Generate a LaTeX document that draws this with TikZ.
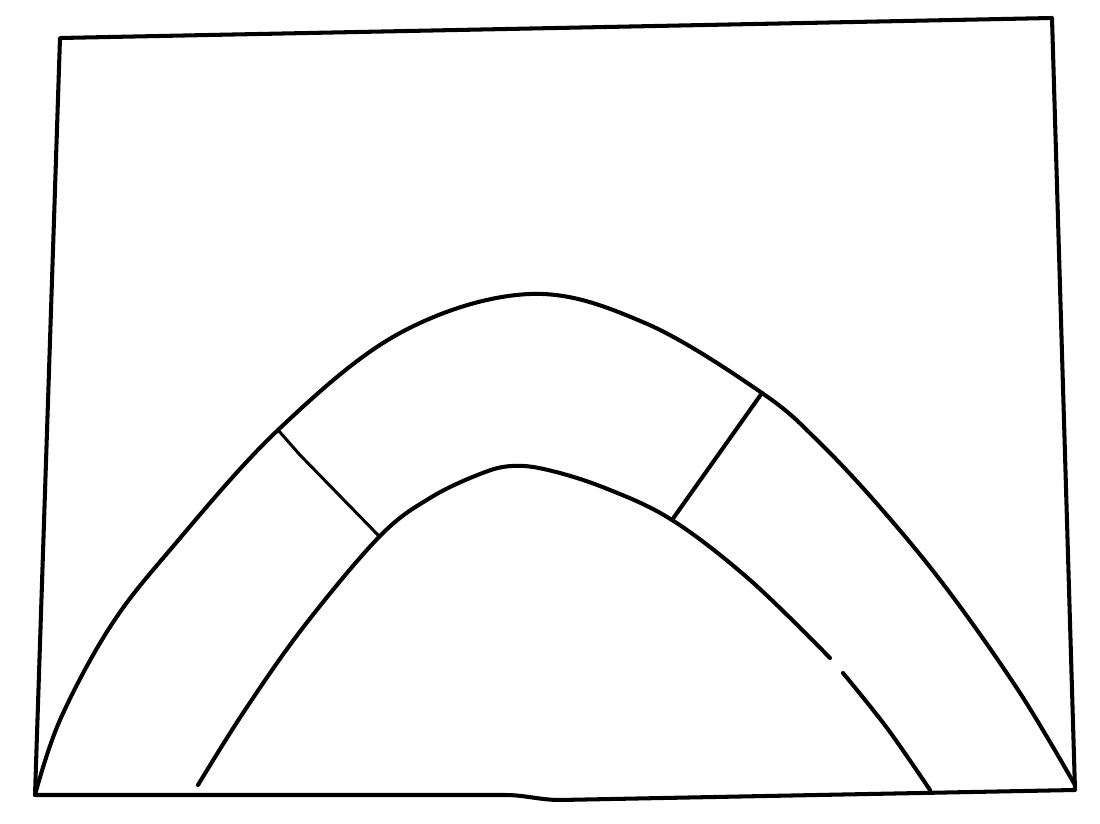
\documentclass[tikz,border=0pt]{standalone}
\begin{document}
\begin{tikzpicture}[x=0.02cm,y=-0.02cm,
  ink/.style={line width=2.3pt,line cap=round,line join=round,black},
  thin ink/.style={line width=1.7pt,line cap=round,line join=round,black}]
\useasboundingbox (0,0) rectangle (1100,824);
% frame
\draw[ink] (60,38) -- (1052,18) -- (1075,790) -- (560,800) .. controls (540,800) and (525,795) .. (505,795) -- (35,795) -- cycle;
% outer arch
\draw[ink] plot[smooth,tension=0.6] coordinates {(35,795) (60,720) (110,627) (170,550) (278,430) (400,333) (530,294) (645,323) (762,393) (820,443) (885,513) (950,593) (1020,693) (1075,785)};
% inner arch
\draw[ink] plot[smooth,tension=0.6] coordinates {(198,785) (245,710) (305,625) (380,536) (430,498) (480,474) (512,466) (548,470) (605,488) (672,520) (750,580) (830,658)};
\draw[ink] plot[smooth,tension=0.6] coordinates {(843,673) (887,728) (930,790)};
% cross lines
\coordinate (a1) at (278,430); \coordinate (a2) at (378,535);
\coordinate (b1) at (762,393); \coordinate (b2) at (672,520);
\draw[thin ink] (a1) -- (300,455) -- (a2);
\draw[ink] (b1) -- (b2);
\end{tikzpicture}
\end{document}
